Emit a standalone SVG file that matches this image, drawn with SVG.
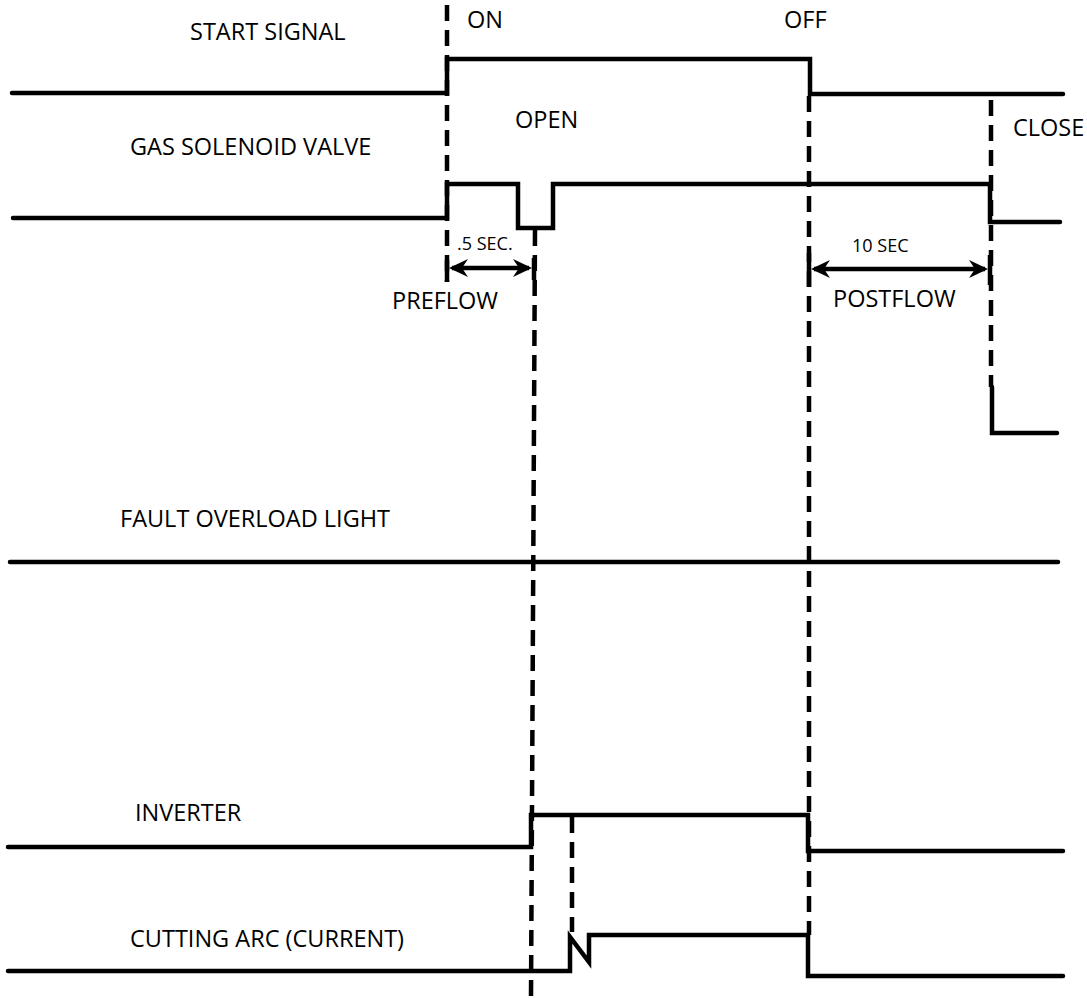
<svg xmlns="http://www.w3.org/2000/svg" width="1087" height="998" viewBox="0 0 1087 998">
<style>
.w{fill:none;stroke:#000;stroke-width:4.5;stroke-linejoin:miter;stroke-linecap:round}
.d{fill:none;stroke:#000;stroke-width:4.5;stroke-dasharray:16 9}
.t{font-family:"Open Sans","Liberation Sans",sans-serif;font-size:23.5px;fill:#000}
.s{font-family:"Open Sans","Liberation Sans",sans-serif;font-size:18px;fill:#000}
.a{fill:none;stroke:#000;stroke-width:4.5}
.h{fill:#000}
</style>
<rect width="1087" height="998" fill="#fff"/>
<g id="connectors">
<path class="d" d="M447,5 V282"/>
<path class="d" d="M535,230 L531,998"/>
<path class="d" d="M809,96 V935"/>
<path class="d" d="M991,100 V387"/>
<path class="d" d="M572,817 V932"/>
</g>
<g id="start-signal">
<path class="w" d="M12,93 H447 V59 H810 V94 H1063"/>
<text class="t" x="190" y="40">START SIGNAL</text>
<text class="t" x="467" y="28">ON</text>
<text class="t" x="784" y="28">OFF</text>
</g>
<g id="gas-solenoid-valve">
<path class="w" d="M13,218 H447 V184 H518 V228 H553 V184 H990 V222 H1060"/>
<text class="t" x="130" y="155">GAS SOLENOID VALVE</text>
<text class="t" x="515" y="128">OPEN</text>
<text class="t" x="1013" y="136">CLOSE</text>
</g>
<g id="preflow">
<path class="a" d="M447,260 V282 M534,258 V280 M452,268 H529"/>
<path class="h" d="M449,268 L468,259 L462,268 L468,277 Z"/>
<path class="h" d="M532,268 L513,259 L519,268 L513,277 Z"/>
<text class="s" x="457" y="250">.5 SEC.</text>
<text class="t" x="392" y="309">PREFLOW</text>
</g>
<g id="postflow">
<path class="a" d="M809,253 V287 M990,255 V285 M814,269 H985"/>
<path class="h" d="M811,269 L830,260 L824,269 L830,278 Z"/>
<path class="h" d="M988,269 L969,260 L975,269 L969,278 Z"/>
<text class="s" x="852" y="252">10 SEC</text>
<text class="t" x="833" y="307">POSTFLOW</text>
</g>
<g id="extra-step">
<path class="w" d="M992,387 V433 H1057"/>
</g>
<g id="fault-overload-light">
<path class="w" d="M10,562 H1058"/>
<text class="t" x="120" y="527">FAULT OVERLOAD LIGHT</text>
</g>
<g id="inverter">
<path class="w" d="M8,847 H531 V815 H808 V851 H1063"/>
<text class="t" x="135" y="821">INVERTER</text>
</g>
<g id="cutting-arc">
<path class="w" d="M8,971 H570 V937 L589,962 V935 H808 V976 H1063"/>
<text class="t" x="130" y="947">CUTTING ARC (CURRENT)</text>
</g>
</svg>
